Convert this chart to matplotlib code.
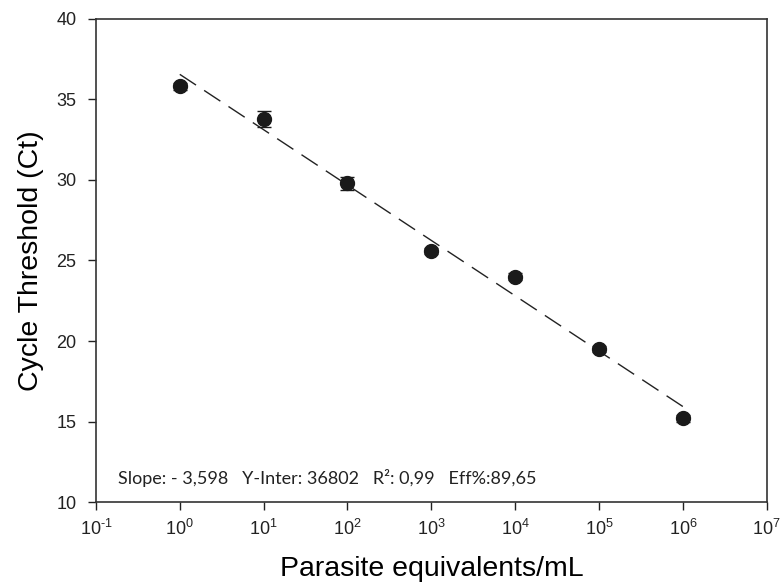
import numpy as np
import matplotlib.pyplot as plt

plt.rcParams['mathtext.fontset'] = 'custom'
plt.rcParams['mathtext.rm'] = 'Liberation Sans'
plt.rcParams['mathtext.it'] = 'Liberation Sans'

# Datos
concentracion = np.array([1e0, 1e1, 1e2, 1e3, 1e4, 1e5, 1e6])
ct = np.array([35.8, 33.8, 29.8, 25.6, 24.0, 19.5, 15.2])
ct_err = np.array([0.2, 0.5, 0.4, 0.2, 0.2, 0.2, 0.2])

exponentes = list(range(-1, 8))
x_ticks = [10.0 ** k for k in exponentes]
x_labels = [r'$\mathregular{10^{\text{-}1}}$' if k < 0 else r'$\mathregular{10^{%d}}$' % k
            for k in exponentes]
y_ticks = [10, 15, 20, 25, 30, 35, 40]

texto = 'Slope: - 3,598   Y-Inter: 36802   R²: 0,99   Eff%:89,65'

# Recta de regresión en escala log
pend, inter = np.polyfit(np.log10(concentracion), ct, 1)
x_fit = np.logspace(0, 6, 50)
y_fit = pend * np.log10(x_fit) + inter

fig = plt.figure(figsize=(7.8, 5.86), dpi=100)
ax = fig.add_axes([0.123, 0.143, 0.860, 0.825])

ax.plot(x_fit, y_fit, color='#222222', linestyle=(0, (14, 7)), linewidth=1.0)
ax.errorbar(concentracion, ct, yerr=ct_err, fmt='o', color='#1a1a1a',
            markersize=10, ecolor='#1a1a1a', elinewidth=1, capsize=5, capthick=1)

ax.set_xscale('log')
ax.set_xlim(1e-1, 1e7)
ax.set_ylim(10, 40)
ax.set_xticks(x_ticks)
ax.set_xticklabels(x_labels)
ax.minorticks_off()
ax.set_yticks(y_ticks)

ax.tick_params(direction='out', length=6, width=1, labelsize=13, colors='#222222')
ax.tick_params(axis='x', pad=6)
ax.tick_params(axis='y', pad=8)
for lbl in ax.get_xticklabels() + ax.get_yticklabels():
    lbl.set_family('Liberation Sans')
for s in ax.spines.values():
    s.set_linewidth(1.2)
    s.set_color('#333333')

ax.set_xlabel('Parasite equivalents/mL', fontsize=20.5, family='Liberation Sans', labelpad=12)
ax.set_ylabel('Cycle Threshold (Ct)', fontsize=20.5, family='Liberation Sans', labelpad=9)

ax.text(0.185, 11.15, texto, fontsize=13, family='Lato', color='#222222', va='baseline')

fig.savefig('out.png', dpi=100)
